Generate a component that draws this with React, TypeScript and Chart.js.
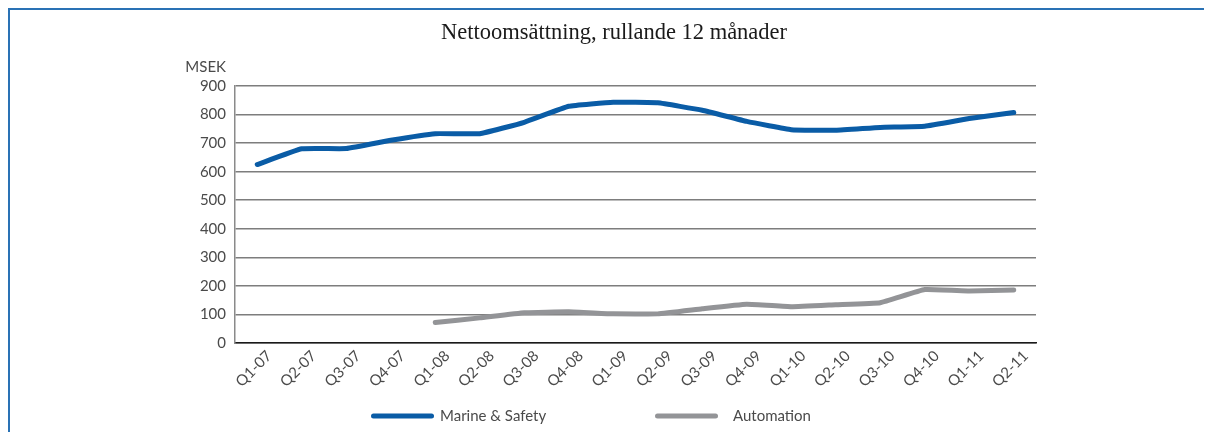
import React, { useEffect, useRef } from "react";
import { Chart, registerables } from "chart.js";

Chart.register(...registerables);

const titleText = "Nettoomsättning, rullande 12 månader";
const unitLabel = "MSEK";
const categories = [
  "Q1-07", "Q2-07", "Q3-07", "Q4-07",
  "Q1-08", "Q2-08", "Q3-08", "Q4-08",
  "Q1-09", "Q2-09", "Q3-09", "Q4-09",
  "Q1-10", "Q2-10", "Q3-10", "Q4-10",
  "Q1-11", "Q2-11",
];
const seriesNames = ["Marine & Safety", "Automation"];
const marineSafety = [625, 680, 681, 710, 733, 733, 773, 829, 843, 841, 815, 776, 747, 745, 755, 759, 786, 807];
const automation = [null, null, null, null, 72, 88, 106, 109, 102, 102, 120, 136, 127, 134, 141, 187, 182, 186];
const yMin = 0;
const yMax = 900;
const yStep = 100;

const TEXT_COLOR = "#4a4a4a";
const SANS = "Lato, 'Open Sans', sans-serif";

const overlayPlugin = {
  id: "overlay",
  afterDraw(chart: any) {
    const ctx = chart.ctx;
    const area = chart.chartArea;
    ctx.save();
    // title
    ctx.font = `22.5px 'Liberation Serif', serif`;
    ctx.fillStyle = "#1a1a1a";
    ctx.textAlign = "center";
    ctx.textBaseline = "alphabetic";
    ctx.fillText(titleText, 606, 31);

    // unit label
    ctx.font = `15px ${SANS}`;
    ctx.fillStyle = TEXT_COLOR;
    ctx.textAlign = "right";
    ctx.textBaseline = "middle";
    ctx.fillText(unitLabel, area.left - 9, area.top - 19);

    // legend
    const legendY = 408;
    const slots = [
      { x0: 363, x1: 426, tx: 432 },
      { x0: 647, x1: 710, tx: 725 },
    ];
    chart.data.datasets.forEach((ds: any, i: number) => {
      const s = slots[i];
      ctx.strokeStyle = ds.borderColor;
      ctx.lineWidth = 5;
      ctx.lineCap = "round";
      ctx.beginPath();
      ctx.moveTo(s.x0 + 2.5, legendY);
      ctx.lineTo(s.x1 - 2.5, legendY);
      ctx.stroke();
      ctx.fillStyle = TEXT_COLOR;
      ctx.textAlign = "left";
      ctx.textBaseline = "middle";
      ctx.font = `15px ${SANS}`;
      ctx.fillText(ds.label, s.tx, legendY);
    });
    ctx.restore();
  },
};

function ChartView() {
  const ref = useRef<HTMLCanvasElement | null>(null);
  useEffect(() => {
    if (!ref.current) return;
    const chart = new Chart(ref.current, {
      type: "line",
      data: {
        labels: categories,
        datasets: [
          {
            label: seriesNames[0],
            data: marineSafety,
            borderColor: "#0a5ca6",
            backgroundColor: "#0a5ca6",
            borderWidth: 5,
            pointRadius: 0,
            tension: 0.1,
            borderCapStyle: "round",
            borderJoinStyle: "round",
          },
          {
            label: seriesNames[1],
            data: automation,
            borderColor: "#939497",
            backgroundColor: "#939497",
            borderWidth: 5,
            pointRadius: 0,
            tension: 0.1,
            borderCapStyle: "round",
            borderJoinStyle: "round",
          },
        ],
      },
      options: {
        responsive: false,
        animation: false,
        events: [],
        layout: { padding: { left: 0, right: 176, top: 78, bottom: 39 } },
        plugins: {
          legend: { display: false },
          tooltip: { enabled: false },
          title: { display: false },
        },
        scales: {
          x: {
            offset: true,
            grid: { display: false, drawTicks: false },
            border: { display: true, color: "#1a1a1a", width: 1.5 },
            ticks: {
              color: TEXT_COLOR,
              font: { family: SANS, size: 15 },
              minRotation: 45,
              maxRotation: 45,
              padding: 4,
              labelOffset: 12,
              autoSkip: false,
            },
            afterFit: (scale: any) => {
              scale.height = 50;
            },
          },
          y: {
            min: yMin,
            max: yMax,
            grid: { color: "#7d7d7d", lineWidth: 1.5, drawTicks: false },
            border: { display: true, color: "#8a8a8a", width: 1.5 },
            ticks: {
              stepSize: yStep,
              color: TEXT_COLOR,
              font: { family: SANS, size: 15 },
              padding: 9,
            },
            afterFit: (scale: any) => {
              scale.width = 227;
            },
          },
        },
      },
      plugins: [overlayPlugin],
    });
    return () => chart.destroy();
  }, []);
  return <canvas ref={ref} width={1204} height={424} style={{ display: "block", position: "absolute", left: 0, top: 0 }} />;
}

export default function App() {
  return (
    <div style={{ position: "relative", width: 1204, height: 424 }}>
      <ChartView />
      <div
        style={{
          position: "absolute",
          left: 0,
          top: 0,
          right: 0,
          bottom: 0,
          borderTop: "2px solid #2a72b5",
          borderLeft: "2px solid #2a72b5",
          pointerEvents: "none",
          boxSizing: "border-box",
        }}
      />
    </div>
  );
}
